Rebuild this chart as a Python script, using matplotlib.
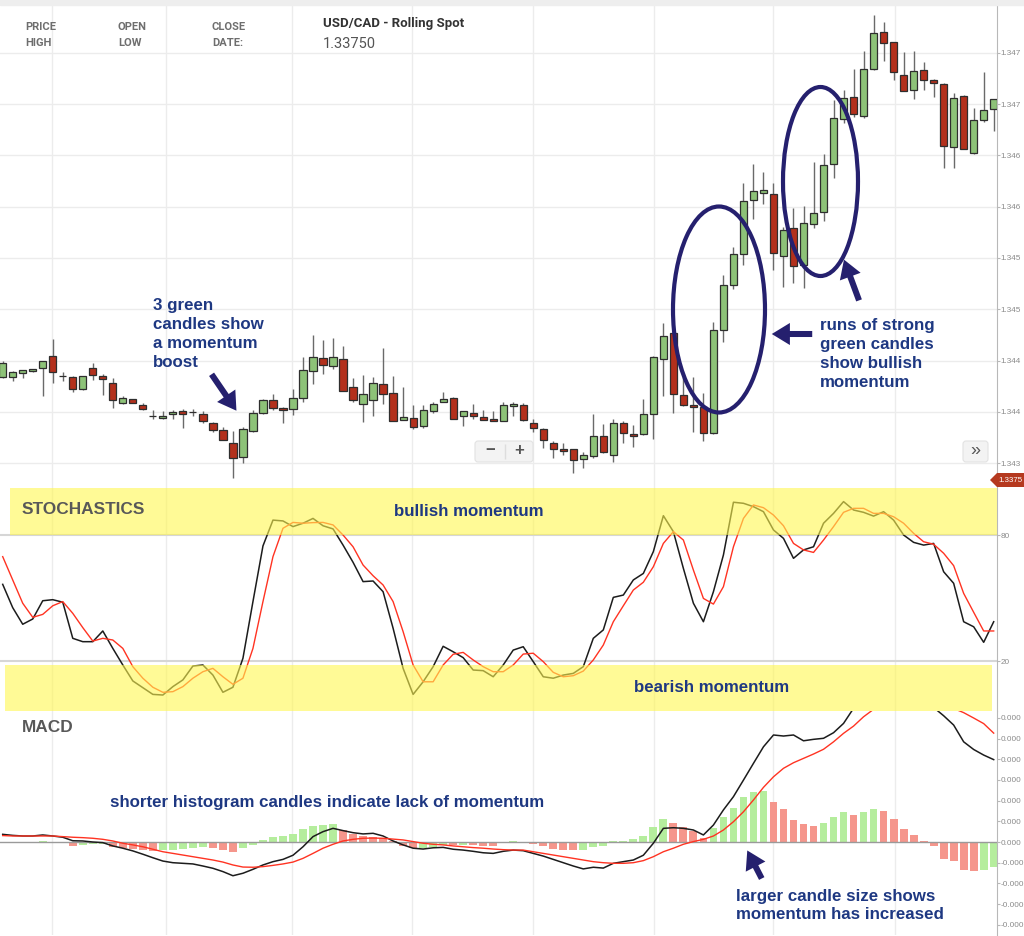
import matplotlib
matplotlib.use("Agg")
import matplotlib.pyplot as plt
import matplotlib.transforms as mtransforms
from matplotlib.patches import Rectangle, Ellipse, FancyArrowPatch, Polygon, FancyBboxPatch
import numpy as np

plt.rcParams['font.family'] = ['Liberation Sans', 'DejaVu Sans']
plt.rcParams['axes.unicode_minus'] = False

# ---- price candles (USD/CAD) ----
opens = [1.34434, 1.34434, 1.34438, 1.34440, 1.34443, 1.34454, 1.34435, 1.34434, 1.34422, 1.34443,
         1.34435, 1.34428, 1.34409, 1.34412, 1.34407, 1.34396, 1.34394, 1.34398, 1.34401, 1.34400,
         1.34398, 1.34389, 1.34382, 1.34370, 1.34356, 1.34381, 1.34399, 1.34411, 1.34404, 1.34403,
         1.34413, 1.34440, 1.34452, 1.34445, 1.34451, 1.34424, 1.34408, 1.34411, 1.34427, 1.34418,
         1.34392, 1.34394, 1.34386, 1.34401, 1.34410, 1.34413, 1.34396, 1.34399, 1.34395, 1.34393,
         1.34391, 1.34406, 1.34407, 1.34389, 1.34383, 1.34370, 1.34364, 1.34364, 1.34354, 1.34357,
         1.34376, 1.34358, 1.34389, 1.34378, 1.34378, 1.34398, 1.34451, 1.34477, 1.34416, 1.34407,
         1.34405, 1.34379, 1.34480, 1.34524, 1.34554, 1.34607, 1.34613, 1.34612, 1.34552, 1.34579,
         1.34543, 1.34583, 1.34595, 1.34642, 1.34686, 1.34707, 1.34689, 1.34734, 1.34770, 1.34761,
         1.34729, 1.34714, 1.34733, 1.34724, 1.34720, 1.34658, 1.34708, 1.34652, 1.34685, 1.34695]
highs = [1.34450, 1.34440, 1.34441, 1.34442, 1.34450, 1.34471, 1.34439, 1.34435, 1.34435, 1.34448,
         1.34437, 1.34433, 1.34415, 1.34412, 1.34409, 1.34402, 1.34401, 1.34402, 1.34403, 1.34403,
         1.34401, 1.34390, 1.34385, 1.34381, 1.34385, 1.34402, 1.34412, 1.34417, 1.34405, 1.34422,
         1.34453, 1.34475, 1.34470, 1.34472, 1.34464, 1.34433, 1.34436, 1.34434, 1.34462, 1.34435,
         1.34424, 1.34407, 1.34407, 1.34410, 1.34419, 1.34414, 1.34401, 1.34408, 1.34402, 1.34401,
         1.34410, 1.34410, 1.34409, 1.34393, 1.34384, 1.34371, 1.34370, 1.34364, 1.34361, 1.34398,
         1.34388, 1.34393, 1.34391, 1.34387, 1.34412, 1.34454, 1.34487, 1.34477, 1.34434, 1.34434,
         1.34418, 1.34488, 1.34533, 1.34561, 1.34623, 1.34642, 1.34634, 1.34623, 1.34580, 1.34599,
         1.34601, 1.34644, 1.34651, 1.34704, 1.34714, 1.34734, 1.34752, 1.34787, 1.34780, 1.34761,
         1.34751, 1.34752, 1.34741, 1.34725, 1.34721, 1.34711, 1.34709, 1.34696, 1.34731, 1.34705]
lows = [1.34433, 1.34430, 1.34433, 1.34439, 1.34415, 1.34428, 1.34430, 1.34419, 1.34421, 1.34431,
        1.34416, 1.34404, 1.34408, 1.34409, 1.34402, 1.34393, 1.34393, 1.34393, 1.34384, 1.34396,
        1.34389, 1.34380, 1.34372, 1.34335, 1.34350, 1.34380, 1.34398, 1.34402, 1.34389, 1.34397,
        1.34410, 1.34427, 1.34437, 1.34442, 1.34420, 1.34410, 1.34390, 1.34396, 1.34408, 1.34391,
        1.34392, 1.34383, 1.34384, 1.34399, 1.34410, 1.34393, 1.34386, 1.34393, 1.34392, 1.34391,
        1.34391, 1.34396, 1.34391, 1.34380, 1.34365, 1.34355, 1.34358, 1.34340, 1.34345, 1.34355,
        1.34360, 1.34351, 1.34370, 1.34366, 1.34377, 1.34373, 1.34415, 1.34399, 1.34406, 1.34380,
        1.34371, 1.34378, 1.34468, 1.34520, 1.34543, 1.34588, 1.34603, 1.34538, 1.34522, 1.34526,
        1.34521, 1.34579, 1.34586, 1.34628, 1.34682, 1.34688, 1.34687, 1.34733, 1.34742, 1.34724,
        1.34713, 1.34705, 1.34714, 1.34707, 1.34638, 1.34638, 1.34656, 1.34651, 1.34683, 1.34674]
closes = [1.34448, 1.34439, 1.34441, 1.34442, 1.34450, 1.34439, 1.34435, 1.34422, 1.34435, 1.34436,
          1.34432, 1.34411, 1.34413, 1.34409, 1.34403, 1.34396, 1.34396, 1.34400, 1.34398, 1.34400,
          1.34391, 1.34382, 1.34372, 1.34355, 1.34383, 1.34399, 1.34411, 1.34404, 1.34402, 1.34413,
          1.34441, 1.34453, 1.34446, 1.34453, 1.34420, 1.34411, 1.34417, 1.34428, 1.34417, 1.34391,
          1.34395, 1.34385, 1.34402, 1.34408, 1.34412, 1.34393, 1.34401, 1.34396, 1.34392, 1.34391,
          1.34407, 1.34408, 1.34392, 1.34384, 1.34372, 1.34364, 1.34362, 1.34353, 1.34358, 1.34376,
          1.34361, 1.34389, 1.34379, 1.34376, 1.34398, 1.34453, 1.34474, 1.34417, 1.34407, 1.34405,
          1.34379, 1.34480, 1.34524, 1.34554, 1.34606, 1.34615, 1.34616, 1.34555, 1.34577, 1.34542,
          1.34584, 1.34594, 1.34641, 1.34687, 1.34706, 1.34690, 1.34734, 1.34769, 1.34760, 1.34731,
          1.34713, 1.34732, 1.34724, 1.34721, 1.34659, 1.34706, 1.34656, 1.34685, 1.34694, 1.34705]

# ---- stochastics %K (black) and %D (red) ----
stoch_k = [56.5, 45.4, 37.5, 40, 48.7, 49.2, 48, 30.8, 29.2, 29.2, 34.3, 26, 18.1, 10.5, 7.3, 4.1, 3.8, 7.8, 11, 17.6,
           18.1, 13.3, 5.1, 7.5, 21.3, 48.3, 74.8, 87.1, 86.7, 84, 85.6, 87.9, 84.4, 82.9, 75.2, 67, 57.8, 58.1, 53, 35.6,
           16.5, 4.1, 10.1, 17.3, 27, 24.4, 21.6, 15.7, 15.4, 12.5, 18.1, 25.2, 26.8, 19.7, 12.5, 11.8, 13.3, 14.1, 17.3, 30.8,
           34.8, 50.3, 51.4, 58.6, 61.7, 72.1, 89.2, 81.6, 64.1, 47.5, 38.7, 53, 70.5, 95.6, 95.1, 93.5, 91.1, 82.4, 78.4, 68.9,
           72.9, 74.4, 85.6, 90.3, 95.9, 91.9, 90.8, 89, 91.1, 87.1, 80, 76.5, 75.2, 76, 62.5, 57, 38.7, 36.3, 28.9, 38.7]
stoch_d = [69.7, 58.6, 47.5, 40.8, 42.2, 46.3, 48.3, 42.7, 35.9, 29.5, 30.8, 30, 26, 17.3, 11.8, 7.5, 5.1, 5.4, 7.8, 11.8,
           14.9, 16.5, 12.5, 8.9, 11.8, 26, 48.3, 69.7, 83.2, 86, 85.6, 85.9, 86, 84.8, 80, 74.4, 65.7, 60.6, 56.2, 48.3,
           34, 18.1, 10.1, 10.1, 18.1, 23.2, 24.1, 20.5, 17.3, 14.9, 14.9, 18.1, 23.3, 23.7, 19.7, 14.6, 12.5, 13, 15.2, 20.5,
           27.6, 38.7, 46.3, 53.8, 57.5, 64.9, 76, 81.6, 77.6, 63.3, 49.8, 47.1, 55.4, 74.4, 87.9, 94.3, 93, 89.5, 84.4, 76,
           72.9, 71.7, 77.6, 84, 90.8, 92.7, 92.7, 90.3, 90.3, 88.7, 85.6, 80.8, 76.8, 75.6, 71.3, 65.4, 52.2, 43.2, 34.3, 34.3]

# ---- MACD, in units of 0.00001 ----
macd_line = [3.7, 3.2, 2.9, 2.9, 3.4, 2.9, 2.3, 0.6, 0.5, 0, -0.3, -1.9, -3.0, -4.3, -5.9, -7.6, -9.2, -10, -10.3, -10.6,
             -11.6, -12.7, -14.3, -16.3, -15.1, -13.2, -11.1, -9.5, -8.4, -6.4, -2.3, 2.6, 5.0, 6.6, 5.5, 4.5, 3.9, 4.2, 2.9, 0.5,
             -1.4, -3.0, -3.4, -2.8, -2.6, -3.5, -3.9, -4.5, -5.2, -5.5, -4.5, -3.9, -4.2, -5.5, -6.8, -8.4, -10, -11.6, -13, -12.2,
             -12.6, -10.3, -9.5, -8.7, -6.4, -0.6, 6.6, 6.9, 6.6, 5.8, 3.4, 8.2, 15.5, 21.9, 29.9, 38, 46, 51.7, 51.2, 51.7,
             48.9, 49.6, 50.1, 52.8, 57.3, 64.6, 70, 74, 76, 77, 75, 72, 68, 65, 61, 56.5, 48.4, 44.7, 42, 39.8]
macd_signal = [3.1, 2.9, 2.9, 2.9, 2.9, 2.9, 2.6, 2.3, 2.1, 1.8, 1.3, 0.5, -0.6, -1.4, -2.3, -3.5, -4.7, -5.5, -6.3, -7.1,
               -7.9, -8.7, -9.7, -11.1, -12.1, -12.2, -11.9, -11.3, -10.6, -9.7, -7.9, -5.5, -3.0, -1.1, 0.5, 1.3, 1.8, 1.9, 1.8, 1.4,
               1.0, 0.2, -0.6, -1.1, -1.4, -1.9, -2.3, -2.7, -3.0, -3.4, -3.7, -3.9, -3.9, -4.7, -5.5, -6.3, -7.1, -7.9, -8.7, -9.5,
               -10, -10.3, -10.3, -10, -9.0, -7.1, -4.7, -3.0, -1.1, 0.2, 1.3, 2.9, 5.8, 9.8, 14.6, 20.3, 26.4, 31.5, 35.6, 38.3,
               40.4, 42.5, 44.8, 48.4, 52.5, 56, 60.5, 64.1, 66, 67.5, 68.5, 69, 69, 68, 66.5, 64.5, 62.5, 59.9, 57.2, 52.6]
macd_hist = [-0.3, -0.3, 0.2, 0.2, 0.3, -0.3, -0.6, -1.8, -1.3, -1.2, -1.0, -2.3, -2.9, -3.5, -3.9, -4.3, -3.9, -3.8, -3.2, -2.7,
             -2.6, -2.7, -3.9, -4.7, -3.1, -1.3, 1.0, 2.4, 2.9, 3.7, 6.1, 7.7, 8.2, 8.7, 5.8, 3.9, 2.9, 2.6, 2.1, 0.6,
             -1.9, -3.1, -3.0, -2.3, -1.4, -1.6, -1.3, -1.6, -1.7, -1.8, -0.3, 0.3, -0.2, -0.8, -2.1, -3.2, -3.7, -4.0, -3.9, -2.4,
             -2.1, 0.3, 0.6, 1.4, 3.1, 7.2, 11.1, 9.2, 7.2, 5.5, 1.9, 6.8, 12.1, 16.4, 21.7, 24.2, 24.5, 19.2, 16.1, 10.8,
             8.9, 7.6, 9.2, 12.1, 14.3, 13.2, 14.3, 16.1, 14.8, 11.1, 6.4, 3.5, 0.6, -2.1, -8.2, -9.3, -13.7, -13.8, -13.4, -12.1]

price_ticks = [1.3435, 1.3440, 1.3445, 1.3450, 1.3455, 1.3460, 1.3465, 1.3470, 1.3475]
macd_ticks = [-0.0004, -0.0003, -0.0002, -0.0001, 0.0, 0.0001, 0.0002, 0.0003, 0.0004, 0.0005, 0.0006]
day_lines = [4.9, 16.3, 28.9, 40.9, 53.0, 65.1, 77.0, 89.1]

W, H = 1024, 936
fig = plt.figure(figsize=(W / 100, H / 100), dpi=100)
# overlay coordinates in pixels of the picture, y going down
px = mtransforms.Affine2D().scale(1 / W, -1 / H).translate(0, 1) + fig.transFigure


def short_label(t):
    # the price scale only has room for the first digits
    s = '%.4f' % t
    return s[:6] if s.startswith('-') else s[:5]


def panel(top, bottom):
    ax = fig.add_axes([0, 1 - bottom / H, 997 / W, (bottom - top) / H])
    ax.set_xlim(-0.27, 99.33)
    for s in ['top', 'left', 'bottom']:
        ax.spines[s].set_visible(False)
    ax.spines['right'].set_color('#b8b8b8')
    ax.yaxis.tick_right()
    ax.tick_params(axis='y', colors='#b8b8b8', labelcolor='#8a8a8a', labelsize=5.9, length=2.0, pad=0.6)
    ax.set_xticks([])
    for d in day_lines:
        ax.axvline(d, color='#ececec', lw=1, zorder=0)
    return ax


x = np.arange(len(opens))

# price panel
ax_p = panel(5, 487)
o, h, l, c = map(np.array, (opens, highs, lows, closes))
ax_p.set_ylim(1.343266, 1.347968)
ax_p.set_yticks(price_ticks)
ax_p.set_yticklabels([short_label(t) for t in price_ticks])
for t in price_ticks:
    ax_p.axhline(t, color='#ececec', lw=1, zorder=0)
ax_p.vlines(x, l, h, color='#6a6a6a', lw=1, zorder=2)
body_col = np.where(c > o, '#8dc278', '#b3301c')
ax_p.bar(x, np.abs(c - o), bottom=np.minimum(o, c), width=0.72, color=body_col,
         edgecolor='#2e2e2e', lw=0.9, zorder=3)

# stochastics panel
ax_s = panel(487, 711)
ax_s.set_ylim(-3.81, 102.86)
ax_s.set_yticks([20, 80])
ax_s.set_yticklabels(['20', '80'])
ax_s.axhline(80, color='#d6d6d6', lw=1.5, zorder=0)
ax_s.axhline(20, color='#d6d6d6', lw=1.5, zorder=0)
ax_s.plot(x, stoch_k, color='#1c1c1c', lw=1.1, zorder=3)
ax_s.plot(x, stoch_d, color='#ff3322', lw=1.0, zorder=3)

# MACD panel
ax_m = panel(711, 935)
hist = np.array(macd_hist) * 1e-5
rising = np.diff(np.concatenate([[hist[0] - 1], hist])) > 0
ax_m.bar(x, hist, width=0.78, color=np.where(rising, '#b5ed9d', '#f5968c'), zorder=2)
ax_m.axhline(0, color='#9a9a9a', lw=1, zorder=2)
ax_m.plot(x, np.array(macd_line) * 1e-5, color='#1c1c1c', lw=1.1, zorder=3)
ax_m.plot(x, np.array(macd_signal) * 1e-5, color='#ff3322', lw=1.0, zorder=3)
ax_m.set_ylim(-4.493e-4, 6.329e-4)
ax_m.set_yticks(macd_ticks)
ax_m.set_yticklabels([short_label(t) for t in macd_ticks])

# ---- overlays ----
fig.add_artist(Rectangle((0, 0), W, 5, transform=px, color='#eeeeee', zorder=1))
fig.add_artist(Rectangle((10, 488), 987, 47, transform=px, color='#fff750', alpha=0.6, lw=0, zorder=1.5))
fig.add_artist(Rectangle((5, 665), 987, 46, transform=px, color='#fff750', alpha=0.6, lw=0, zorder=1.5))

head = dict(fontfamily='Roboto', fontweight='bold', fontsize=8, color='#6e6e6e', transform=px, va='center')
for tx, ty, s in [(25, 27, 'PRICE'), (25, 43, 'HIGH'), (118, 27, 'OPEN'), (118, 43, 'LOW'),
                  (212, 27, 'CLOSE'), (212, 43, 'DATE:')]:
    fig.text(tx, ty, s, **head)
fig.text(323, 24, 'USD/CAD - Rolling Spot', fontfamily='Roboto', fontweight='bold', fontsize=9.5,
         color='#333333', transform=px, va='center')
fig.text(323, 44, '1.33750', fontfamily='Roboto', fontsize=10.5, color='#555555', transform=px, va='center')

fig.text(22, 510, 'STOCHASTICS', fontsize=12.4, fontweight='bold', color='#585858', transform=px, va='center')
fig.text(22, 728, 'MACD', fontsize=12.4, fontweight='bold', color='#585858', transform=px, va='center')

navy = '#1e3882'
ink = '#25206e'
note = dict(fontsize=12.2, fontweight='bold', color=navy, transform=px, va='center', linespacing=1.32)
fig.text(153, 334, '3 green\ncandles show\na momentum\nboost', ha='left', **note)
fig.text(820, 354, 'runs of strong\ngreen candles\nshow bullish\nmomentum', ha='left', **note)
fig.text(469, 511, 'bullish momentum', ha='center', **note)
fig.text(712, 687, 'bearish momentum', ha='center', **note)
fig.text(110, 802, 'shorter histogram candles indicate lack of momentum', ha='left', **note)
fig.text(736, 905.5, 'larger candle size shows\nmomentum has increased', ha='left', **note)

fig.add_artist(Ellipse((719, 309.5), 92, 206, transform=px, fill=False, edgecolor=ink, lw=3, zorder=2))
fig.add_artist(Ellipse((820.5, 181.5), 75, 189, transform=px, fill=False, edgecolor=ink, lw=3, zorder=2))
arrow_style = 'simple,head_length=0.87,head_width=1.06,tail_width=0.29'
for a, b in [((210, 372), (238, 413)), ((815, 334), (769, 334)), ((860, 303), (843, 257)),
             ((763, 881), (746, 848))]:
    fig.add_artist(FancyArrowPatch(a, b, transform=px, arrowstyle=arrow_style, mutation_scale=15,
                                   color=ink, lw=0, zorder=2))

# zoom buttons
fig.add_artist(FancyBboxPatch((475, 441), 58, 21, boxstyle='round,pad=0,rounding_size=3', transform=px,
                              fc='#f3f3f3', ec='#e2e2e2', lw=0.8, zorder=2))
fig.add_artist(Rectangle((504.5, 444), 0.8, 15, transform=px, color='#dddddd', zorder=2.5))
fig.text(490, 451, '\u2212', fontsize=12, fontweight='bold', color='#555555', transform=px, ha='center', va='center')
fig.text(519, 451, '+', fontsize=12, fontweight='bold', color='#555555', transform=px, ha='center', va='center')
fig.add_artist(FancyBboxPatch((963, 441), 25, 21, boxstyle='round,pad=0,rounding_size=3', transform=px,
                              fc='#f3f3f3', ec='#e2e2e2', lw=0.8, zorder=2))
fig.text(975.5, 451, '\u00bb', fontsize=13, color='#555555', transform=px, ha='center', va='center')

# last price tag
fig.add_artist(Polygon([(990, 480), (997, 473), (1024, 473), (1024, 487), (997, 487)], transform=px,
                       fc='#b5391f', ec='none', zorder=2))
fig.text(998.5, 480.5, '1.3375', fontsize=5.7, color='white', transform=px, va='center')

fig.savefig('out.png', dpi=100)
